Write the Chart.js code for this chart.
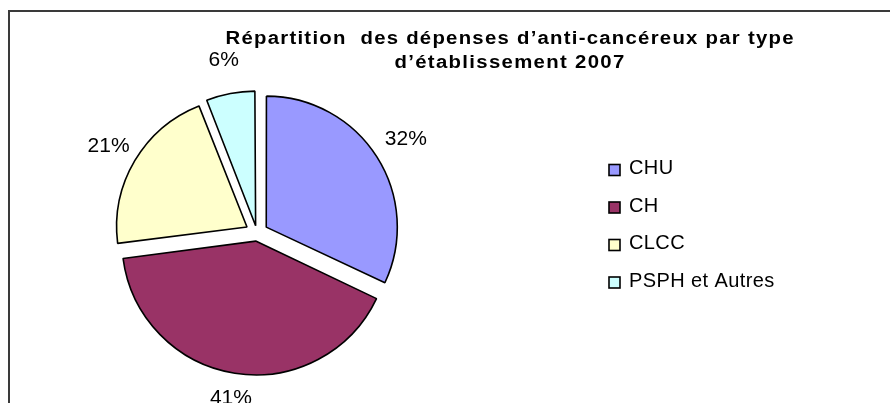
<!DOCTYPE html>
<html>
<head>
<meta charset="utf-8">
<script src="https://cdn.jsdelivr.net/npm/chart.js@4.4.1/dist/chart.umd.min.js"></script>
<style>
  html, body { margin: 0; padding: 0; background: #fff; overflow: hidden; width: 890px; height: 403px; }
  #frame { position: absolute; left: 8px; top: 10px; width: 1000px; height: 600px; border: 2px solid #3a3a3a; box-sizing: border-box; }
  #c { position: absolute; left: 0; top: 0; }
</style>
</head>
<body>
<div id="frame"></div>
<canvas id="c" width="890" height="403"></canvas>
<script>
// ---- data ----
const titleLines = ["Répartition  des dépenses d’anti-cancéreux par type", "d’établissement 2007"];
const categories = ["CHU", "CH", "CLCC", "PSPH et Autres"];
const shares = [32, 41, 21, 6];
const sliceColors = ["#9999FF", "#993366", "#FFFFCC", "#CCFFFF"];

const FONT = "'Liberation Sans', Arial, sans-serif";
const TRANSLATE = 12; // desired explode distance in px

function arcShift(el) {
  const o = (el.options.offset || 0) / 4;
  const circ = el.endAngle - el.startAngle;
  const fix = 1 - Math.sin(Math.min(Math.PI, circ || 0));
  return o + o * fix;
}

const overlay = {
  id: 'overlay',
  afterDraw(chart) {
    const ctx = chart.ctx;
    // title
    ctx.save();
    ctx.fillStyle = '#000';
    ctx.font = 'bold 18px ' + FONT;
    ctx.textBaseline = 'alphabetic';
    ctx.textAlign = 'left';
    const cx = 510;
    const targets = [569, 231];
    const baselines = [44, 68];
    titleLines.forEach((t, i) => {
      const sx = 1.13;
      const w = ctx.measureText(t).width;
      const n = t.length;
      let ls = (targets[i] / sx - w) / n;
      if (ls < 0) ls = 0;
      ctx.save();
      ctx.translate(cx - targets[i] / 2, baselines[i]);
      ctx.scale(sx, 1);
      if ('letterSpacing' in ctx) {
        ctx.letterSpacing = ls.toFixed(2) + 'px';
        ctx.fillText(t, 0, 0);
      } else {
        let x = 0;
        for (const ch of t) { ctx.fillText(ch, x, 0); x += ctx.measureText(ch).width + ls; }
      }
      ctx.restore();
    });
    ctx.restore();

    // percentage labels
    const meta = chart.getDatasetMeta(0);
    const total = shares.reduce((a, b) => a + b, 0);
    const gaps = [12, 13, 8, 24];
    ctx.save();
    ctx.font = '21px ' + FONT;
    ctx.fillStyle = '#000';
    ctx.textAlign = 'center';
    ctx.textBaseline = 'middle';
    meta.data.forEach((el, i) => {
      const mid = (el.startAngle + el.endAngle) / 2;
      const dx = Math.cos(mid), dy = Math.sin(mid);
      const txt = Math.round(shares[i] / total * 100) + '%';
      const hw = ctx.measureText(txt).width / 2;
      const hh = 8.5;
      const support = hw * Math.abs(dx) + hh * Math.abs(dy);
      const d = el.outerRadius + arcShift(el) + gaps[i] + support;
      ctx.fillText(txt, el.x + dx * d, el.y + dy * d + 1);
    });
    ctx.restore();

    // legend
    ctx.save();
    ctx.font = '20px ' + FONT;
    ctx.textAlign = 'left';
    ctx.textBaseline = 'alphabetic';
    categories.forEach((name, i) => {
      const yc = 170 + i * 37.5;
      ctx.fillStyle = sliceColors[i];
      ctx.fillRect(609, yc - 5.5, 11, 11);
      ctx.strokeStyle = '#000';
      ctx.lineWidth = 1.6;
      ctx.strokeRect(609, yc - 5.5, 11, 11);
      ctx.fillStyle = '#000';
      if ('letterSpacing' in ctx) ctx.letterSpacing = '0.4px';
      ctx.fillText(name, 629, yc + 4);
    });
    ctx.restore();
  }
};

new Chart(document.getElementById('c'), {
  type: 'pie',
  data: {
    labels: categories,
    datasets: [{
      data: shares,
      backgroundColor: sliceColors,
      borderColor: '#000',
      borderWidth: 1.6,
      offset: (c) => {
        const total = shares.reduce((a, b) => a + b, 0);
        const circ = (c.raw / total) * Math.PI * 2;
        const fix = 1 - Math.sin(Math.min(Math.PI, circ));
        return (TRANSLATE * 4) / (1 + fix);
      },
      hoverOffset: 0
    }]
  },
  options: {
    responsive: false,
    animation: false,
    radius: 130,
    layout: { padding: { left: 97, right: 473, top: 73, bottom: 10 } },
    plugins: {
      legend: { display: false },
      title: { display: false },
      tooltip: { enabled: false }
    }
  },
  plugins: [overlay]
});
</script>
</body>
</html>
